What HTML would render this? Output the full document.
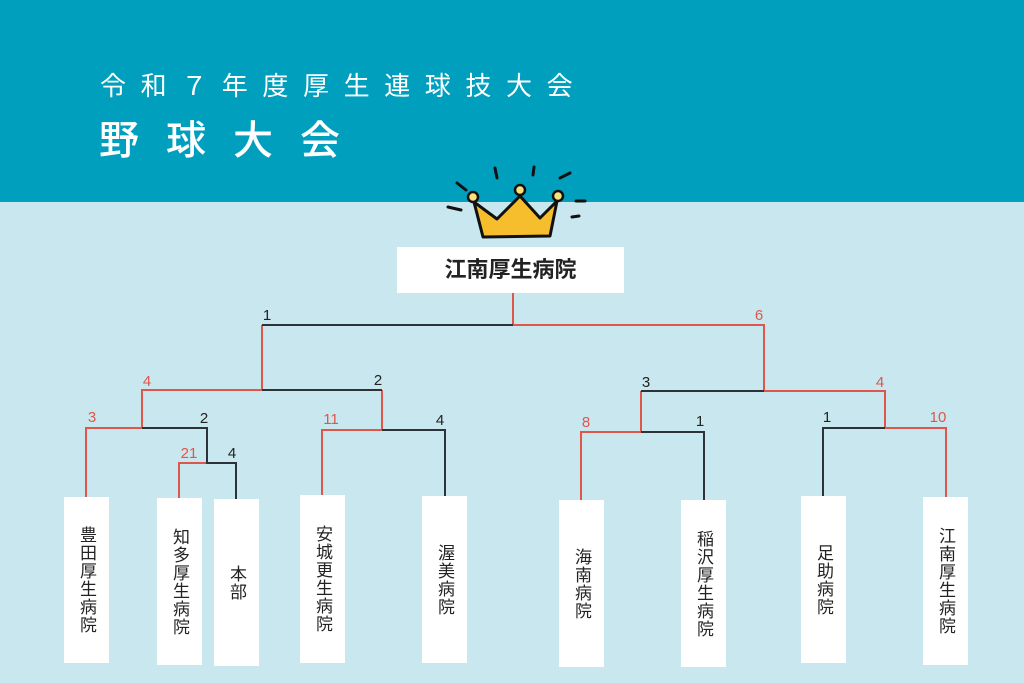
<!DOCTYPE html>
<html><head><meta charset="utf-8"><style>
*{margin:0;padding:0;box-sizing:border-box}
body{width:1024px;height:683px;background:#c9e7ee;position:relative;overflow:hidden;font-family:"Liberation Sans","Noto Sans CJK JP",sans-serif}
.hdr{position:absolute;left:0;top:0;width:1024px;height:202px;background:#009fbd}
.t1{position:absolute;left:100px;top:71px;color:#fff;font-size:26px;letter-spacing:14.6px;white-space:nowrap;line-height:30px}
.t2{position:absolute;left:99px;top:117px;color:#fff;font-size:40px;letter-spacing:27px;white-space:nowrap;line-height:48px;font-weight:500}
.champ{position:absolute;left:397px;top:247px;width:227px;height:46px;background:#fff;text-align:center;font-size:22px;font-weight:bold;line-height:46px;color:#222}
.b{position:absolute;background:#fff;width:45px;display:flex;align-items:center;justify-content:center}
.b span{writing-mode:vertical-rl;font-size:17px;line-height:19px;letter-spacing:1px;color:#222}
svg{position:absolute;left:0;top:0}
</style></head><body>
<div class="hdr"></div>
<div class="t1">令和７年度厚生連球技大会</div>
<div class="t2">野球大会</div>
<svg width="1024" height="683">
<g stroke="#111" stroke-width="3" stroke-linecap="round">
<line x1="457" y1="183" x2="466" y2="190"/><line x1="495" y1="168" x2="497" y2="178"/>
<line x1="534" y1="167" x2="533" y2="175"/><line x1="560" y1="178" x2="570" y2="173"/>
<line x1="448" y1="207" x2="461" y2="210"/><line x1="576" y1="201" x2="585" y2="201"/>
<line x1="572" y1="217" x2="579" y2="216"/></g>
<path d="M474,202 L497,219 L520,196 L540,218 L557,201 L550,236 L483,237 Z" fill="#f6be2c" stroke="#111" stroke-width="3" stroke-linejoin="round"/>
<g fill="#f8e17a" stroke="#111" stroke-width="2.5"><circle cx="473" cy="197" r="5"/><circle cx="520" cy="190" r="5"/><circle cx="558" cy="196" r="5"/></g>
<g fill="none" stroke-width="2">
<g stroke="#e0564a">
<polyline points="513,293 513,325 764,325 764,391 885,391 885,428 946,428 946,497"/>
<polyline points="262,325 262,390 142,390 142,428 86,428 86,497"/>
<polyline points="382,390 382,430 322,430 322,496"/>
<polyline points="207,463 179,463 179,498"/>
<polyline points="641,391 641,432 581,432 581,500"/>
</g>
<g stroke="#2b3238">
<polyline points="262,325 513,325"/>
<polyline points="262,390 382,390"/>
<polyline points="142,428 207,428 207,463 236,463 236,499"/>
<polyline points="382,430 445,430 445,496"/>
<polyline points="641,391 764,391"/>
<polyline points="641,432 704,432 704,500"/>
<polyline points="885,428 823,428 823,496"/>
</g></g>
<g font-family="Liberation Sans,sans-serif" font-size="15" text-anchor="middle">
<g fill="#222"><text x="267" y="320">1</text><text x="378" y="385">2</text><text x="204" y="423">2</text><text x="232" y="458">4</text><text x="440" y="425">4</text><text x="646" y="387">3</text><text x="700" y="426">1</text><text x="827" y="422">1</text></g>
<g fill="#e0564a"><text x="147" y="386">4</text><text x="92" y="422">3</text><text x="189" y="458">21</text><text x="331" y="424">11</text><text x="759" y="320">6</text><text x="880" y="387">4</text><text x="586" y="427">8</text><text x="938" y="422">10</text></g>
</g>
</svg>
<div class="champ">江南厚生病院</div>
<div class="b" style="left:64px;top:497px;height:166px"><span>豊田厚生病院</span></div>
<div class="b" style="left:157px;top:498px;height:167px"><span>知多厚生病院</span></div>
<div class="b" style="left:214px;top:499px;height:167px"><span>本部</span></div>
<div class="b" style="left:300px;top:495px;height:168px"><span>安城更生病院</span></div>
<div class="b" style="left:422px;top:496px;height:167px"><span>渥美病院</span></div>
<div class="b" style="left:559px;top:500px;height:167px"><span>海南病院</span></div>
<div class="b" style="left:681px;top:500px;height:167px"><span>稲沢厚生病院</span></div>
<div class="b" style="left:801px;top:496px;height:167px"><span>足助病院</span></div>
<div class="b" style="left:923px;top:497px;height:168px"><span>江南厚生病院</span></div>
</body></html>
